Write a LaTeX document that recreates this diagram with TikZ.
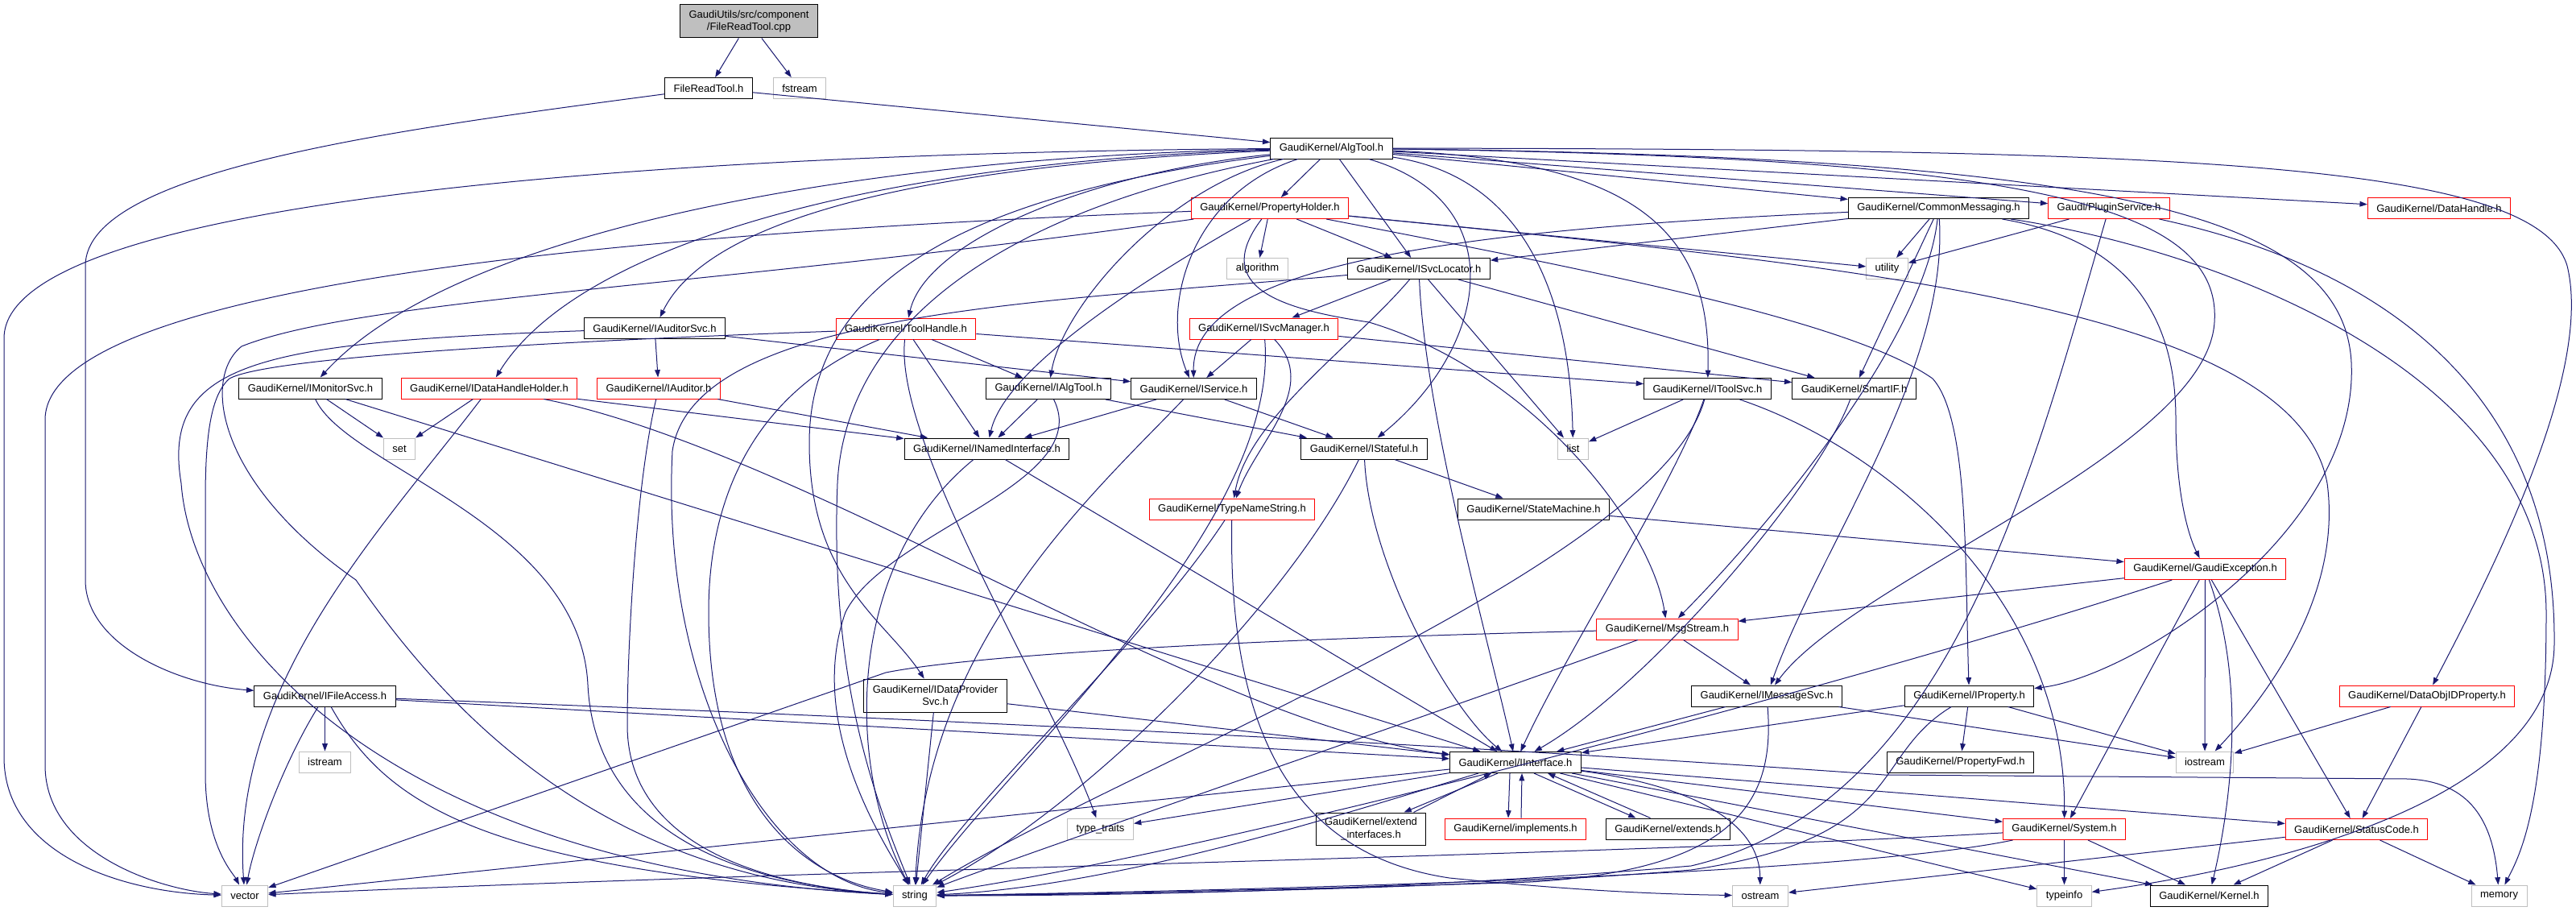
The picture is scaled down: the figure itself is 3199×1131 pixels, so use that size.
\documentclass[tikz,border=0pt]{standalone}
\usepackage{fontspec}
\setmainfont{Liberation Sans}
\usetikzlibrary{arrows.meta}
\definecolor{edgeblue}{HTML}{191970}

\begin{document}
\begin{tikzpicture}[x=0.75pt,y=-0.75pt,
  font=\fontsize{9.75pt}{11.5pt}\selectfont,
  hdr/.style={draw=black,fill=white,line width=0.75pt,inner xsep=8.25pt,inner ysep=0pt,minimum height=19.5pt},
  hdrred/.style={hdr,draw=red},
  sys/.style={hdr,draw=black!25},
  srcfile/.style={hdr,fill=black!25,minimum height=30.75pt,align=center},
  inc/.style={draw=edgeblue,line width=0.75pt,-{Triangle[length=7pt,width=5pt]}}]
\fill[white] (0,0) rectangle (3199,1131);
\useasboundingbox (0,0) rectangle (3199,1131);

\node[srcfile] (root) at (930,26.5) {GaudiUtils/src/component\\/FileReadTool.cpp};
\node[hdr] (frt) at (880,109.5) {FileReadTool.h};
\node[sys] (fstream) at (993,109.5) {fstream};
\node[hdr] (algtool) at (1653.5,184) {GaudiKernel/AlgTool.h};
\node[hdrred] (propholder) at (1577,258.5) {GaudiKernel/PropertyHolder.h};
\node[sys] (algorithm) at (1561.5,333.5) {algorithm};
\node[hdr] (isvcloc) at (1762,333.5) {GaudiKernel/ISvcLocator.h};
\node[hdr] (commsg) at (2407.5,258.5) {GaudiKernel/CommonMessaging.h};
\node[hdrred] (plugin) at (2619,258.5) {Gaudi/PluginService.h};
\node[hdrred] (datahandle) at (3029,258.5) {GaudiKernel/DataHandle.h};
\node[sys] (utility) at (2343.5,333.5) {utility};
\node[hdrred] (toolhandle) at (1125,408) {GaudiKernel/ToolHandle.h};
\node[hdrred] (isvcmgr) at (1569.5,408) {GaudiKernel/ISvcManager.h};
\node[hdr] (iauditorsvc) at (813,407.5) {GaudiKernel/IAuditorSvc.h};
\node[hdr] (imonitorsvc) at (385.5,482) {GaudiKernel/IMonitorSvc.h};
\node[hdrred] (idhh) at (607.5,482) {GaudiKernel/IDataHandleHolder.h};
\node[hdrred] (iauditor) at (818,482) {GaudiKernel/IAuditor.h};
\node[hdr] (ialgtool) at (1302,482.5) {GaudiKernel/IAlgTool.h};
\node[hdr] (iservice) at (1482.5,482.5) {GaudiKernel/IService.h};
\node[hdr] (itoolsvc) at (2120.5,482.5) {GaudiKernel/IToolSvc.h};
\node[hdr] (smartif) at (2302.5,482.5) {GaudiKernel/SmartIF.h};
\node[sys] (set) at (496,557) {set};
\node[hdr] (inamed) at (1225.5,557) {GaudiKernel/INamedInterface.h};
\node[hdr] (istateful) at (1694,557) {GaudiKernel/IStateful.h};
\node[sys] (list) at (1953.5,557) {list};
\node[hdrred] (typename) at (1530,632) {GaudiKernel/TypeNameString.h};
\node[hdr] (statemachine) at (1904.5,632) {GaudiKernel/StateMachine.h};
\node[hdrred] (gaudiexc) at (2738.5,706.5) {GaudiKernel/GaudiException.h};
\node[hdrred] (msgstream) at (2070.5,781) {GaudiKernel/MsgStream.h};
\node[hdr,minimum height=30.75pt,align=center] (idataprov) at (1161.5,863.5) {GaudiKernel/IDataProvider\\Svc.h};
\node[hdr] (ifileaccess) at (403.5,864) {GaudiKernel/IFileAccess.h};
\node[hdr] (imessagesvc) at (2194,864) {GaudiKernel/IMessageSvc.h};
\node[hdr] (iproperty) at (2445.5,864) {GaudiKernel/IProperty.h};
\node[hdrred] (dataobjid) at (3014,864) {GaudiKernel/DataObjIDProperty.h};
\node[sys] (istream) at (403.5,946) {istream};
\node[hdr] (iinterface) at (1882,946.5) {GaudiKernel/IInterface.h};
\node[hdr] (propfwd) at (2434.5,946) {GaudiKernel/PropertyFwd.h};
\node[sys] (iostream) at (2738,946) {iostream};
\node[sys] (typetraits) at (1366.5,1029) {type\_traits};
\node[hdr,minimum height=30pt,align=center] (extendif) at (1702.5,1029) {GaudiKernel/extend\\\_interfaces.h};
\node[hdrred] (implements) at (1882,1029) {GaudiKernel/implements.h};
\node[hdr] (extends) at (2071.5,1029) {GaudiKernel/extends.h};
\node[hdrred] (system) at (2563.5,1029.5) {GaudiKernel/System.h};
\node[hdrred] (statuscode) at (2926.5,1029.5) {GaudiKernel/StatusCode.h};
\node[sys] (vector) at (304,1112) {vector};
\node[sys] (string) at (1136,1112) {string};
\node[sys] (ostream) at (2186,1112) {ostream};
\node[sys] (typeinfo) at (2563.5,1112) {typeinfo};
\node[hdr] (kernel) at (2743.5,1112) {GaudiKernel/Kernel.h};
\node[sys] (memory) at (3103.5,1112) {memory};

\draw[inc] (root) -- (frt);
\draw[inc] (root) -- (fstream);
\draw[inc] (frt) -- (algtool);
\draw[inc] (frt) .. controls (500,160) and (106,210) .. (106,330) -- (106,720) .. controls (106,800) and (220,850) .. (ifileaccess);

\draw[inc] (algtool) -- (propholder);
\draw[inc] (algtool) -- (isvcloc);
\draw[inc] (algtool) -- (commsg);
\draw[inc] (algtool) -- (plugin);
\draw[inc] (algtool) -- (datahandle);
\draw[inc] (algtool) .. controls (2700,185) and (3150,200) .. (3188,330) .. controls (3220,460) and (3100,700) .. (dataobjid);
\draw[inc] (algtool) .. controls (1350,215) and (1150,300) .. (toolhandle);
\draw[inc] (algtool) .. controls (1150,205) and (880,270) .. (iauditorsvc);
\draw[inc] (algtool) .. controls (1100,200) and (720,300) .. (idhh);
\draw[inc] (algtool) .. controls (1050,195) and (560,290) .. (imonitorsvc);
\draw[inc] (algtool) .. controls (800,190) and (5,250) .. (5,420) -- (5,940) .. controls (5,1060) and (150,1108) .. (vector);
\draw[inc] (algtool) .. controls (1450,230) and (1320,380) .. (ialgtool);
\draw[inc] (algtool) .. controls (1480,240) and (1440,380) .. (iservice);
\draw[inc] (algtool) .. controls (1880,250) and (1850,430) .. (istateful);
\draw[inc] (algtool) .. controls (1900,220) and (1950,380) .. (list);
\draw[inc] (algtool) .. controls (2050,200) and (2125,300) .. (itoolsvc);
\draw[inc] (algtool) .. controls (2500,195) and (2760,250) .. (2750,400) .. controls (2740,560) and (2300,720) .. (imessagesvc);
\draw[inc] (algtool) .. controls (2600,195) and (2910,260) .. (2920,450) .. controls (2930,660) and (2650,840) .. (iproperty);
\draw[inc] (algtool) .. controls (1200,240) and (1005,350) .. (1005,550) .. controls (1005,720) and (1100,770) .. (idataprov);
\draw[inc] (algtool) .. controls (1250,260) and (1050,400) .. (1040,600) .. controls (1030,850) and (1090,1000) .. (string);

\draw[inc] (propholder) -- (algorithm);
\draw[inc] (propholder) -- (isvcloc);
\draw[inc] (propholder) -- (utility);
\draw[inc] (propholder) .. controls (900,285) and (60,340) .. (56,520) -- (56,950) .. controls (56,1060) and (200,1105) .. (vector);
\draw[inc] (propholder) .. controls (900,355) and (450,370) .. (300,430) .. controls (250,470) and (270,600) .. (442,720) .. controls (560,890) and (750,1090) .. (string);
\draw[inc] (propholder) .. controls (1450,330) and (1250,450) .. (inamed);
\draw[inc] (propholder) .. controls (1500,360) and (1600,385) .. (1700,400) .. controls (1900,460) and (2050,650) .. (msgstream);
\draw[inc] (propholder) .. controls (2000,340) and (2300,400) .. (2400,470) .. controls (2445,520) and (2440,700) .. (iproperty);
\draw[inc] (propholder) .. controls (2300,330) and (2850,380) .. (2890,600) .. controls (2910,750) and (2800,880) .. (iostream);

\draw[inc] (isvcloc) -- (isvcmgr);
\draw[inc] (isvcloc) .. controls (1680,430) and (1550,520) .. (typename);
\draw[inc] (isvcloc) -- (list);
\draw[inc] (isvcloc) -- (smartif);
\draw[inc] (isvcloc) .. controls (1770,520) and (1850,800) .. (iinterface);
\draw[inc] (isvcloc) .. controls (1300,375) and (860,385) .. (835,560) .. controls (820,850) and (950,1090) .. (string);

\draw[inc] (isvcmgr) -- (iservice);
\draw[inc] (isvcmgr) -- (smartif);
\draw[inc] (isvcmgr) .. controls (1640,480) and (1560,550) .. (typename);
\draw[inc] (isvcmgr) .. controls (1590,650) and (1250,950) .. (string);

\draw[inc] (commsg) -- (utility);
\draw[inc] (commsg) -- (smartif);
\draw[inc] (commsg) -- (isvcloc);
\draw[inc] (commsg) .. controls (1800,285) and (1480,330) .. (iservice);
\draw[inc] (commsg) .. controls (2390,420) and (2200,650) .. (msgstream);
\draw[inc] (commsg) .. controls (2420,460) and (2260,680) .. (imessagesvc);
\draw[inc] (commsg) .. controls (2650,300) and (2702,400) .. (2702,520) .. controls (2702,620) and (2720,670) .. (gaudiexc);
\draw[inc] (commsg) .. controls (2750,310) and (3160,460) .. (3162,760) .. controls (3162,1000) and (3130,1060) .. (memory);

\draw[inc] (plugin) -- (utility);
\draw[inc] (plugin) .. controls (2520,600) and (2420,1000) .. (2100,1075) .. controls (1700,1110) and (1300,1112) .. (string);
\draw[inc] (plugin) .. controls (2950,330) and (3175,480) .. (3172,800) .. controls (3170,1000) and (2800,1080) .. (typeinfo);

\draw[inc] (toolhandle) -- (ialgtool);
\draw[inc] (toolhandle) -- (inamed);
\draw[inc] (toolhandle) -- (itoolsvc);
\draw[inc] (toolhandle) .. controls (650,425) and (330,445) .. (285,470) .. controls (262,490) and (255,540) .. (255,620) -- (255,960) .. controls (255,1050) and (290,1085) .. (vector);
\draw[inc] (toolhandle) .. controls (950,480) and (880,600) .. (880,760) .. controls (880,1000) and (1000,1090) .. (string);
\draw[inc] (toolhandle) .. controls (1110,550) and (1300,850) .. (typetraits);

\draw[inc] (iauditorsvc) -- (iauditor);
\draw[inc] (iauditorsvc) -- (iservice);
\draw[inc] (iauditorsvc) .. controls (320,425) and (200,450) .. (225,600) .. controls (240,800) and (500,1080) .. (string);

\draw[inc] (imonitorsvc) -- (set);
\draw[inc] (imonitorsvc) -- (iinterface);
\draw[inc] (imonitorsvc) .. controls (430,580) and (720,650) .. (730,850) .. controls (740,1050) and (950,1100) .. (string);

\draw[inc] (idhh) -- (set);
\draw[inc] (idhh) .. controls (480,650) and (285,850) .. (vector);
\draw[inc] (idhh) -- (inamed);
\draw[inc] (idhh) .. controls (1000,560) and (1500,900) .. (iinterface);

\draw[inc] (iauditor) -- (inamed);
\draw[inc] (iauditor) .. controls (790,600) and (779,800) .. (779,900) .. controls (779,1050) and (950,1100) .. (string);

\draw[inc] (ialgtool) -- (inamed);
\draw[inc] (ialgtool) -- (istateful);
\draw[inc] (ialgtool) .. controls (1360,600) and (1100,660) .. (1050,760) .. controls (1000,900) and (1100,1050) .. (string);

\draw[inc] (iservice) -- (inamed);
\draw[inc] (iservice) -- (istateful);
\draw[inc] (iservice) .. controls (1350,620) and (1150,800) .. (string);

\draw[inc] (itoolsvc) -- (list);
\draw[inc] (itoolsvc) .. controls (2080,600) and (1950,800) .. (iinterface);
\draw[inc] (itoolsvc) .. controls (2060,700) and (1400,950) .. (string);
\draw[inc] (itoolsvc) .. controls (2350,560) and (2566,750) .. (system);

\draw[inc] (smartif) .. controls (2260,600) and (2050,850) .. (iinterface);

\draw[inc] (inamed) -- (iinterface);
\draw[inc] (inamed) .. controls (1050,700) and (1050,950) .. (string);

\draw[inc] (istateful) -- (statemachine);
\draw[inc] (istateful) .. controls (1700,700) and (1800,880) .. (iinterface);
\draw[inc] (istateful) .. controls (1600,750) and (1350,1000) .. (string);

\draw[inc] (typename) .. controls (1420,800) and (1200,1000) .. (string);
\draw[inc] (typename) .. controls (1525,900) and (1600,1060) .. (1800,1090) .. controls (1950,1105) and (2050,1110) .. (ostream);

\draw[inc] (statemachine) -- (gaudiexc);

\draw[inc] (gaudiexc) -- (msgstream);
\draw[inc] (gaudiexc) .. controls (2300,850) and (1500,1060) .. (string);
\draw[inc] (gaudiexc) -- (iostream);
\draw[inc] (gaudiexc) -- (system);
\draw[inc] (gaudiexc) .. controls (2790,850) and (2770,1000) .. (kernel);
\draw[inc] (gaudiexc) -- (statuscode);

\draw[inc] (msgstream) -- (imessagesvc);
\draw[inc] (msgstream) .. controls (1500,795) and (1200,815) .. (1100,835) -- (vector);
\draw[inc] (msgstream) .. controls (1800,880) and (1300,1050) .. (string);

\draw[inc] (idataprov) -- (iinterface);
\draw[inc] (idataprov) -- (string);

\draw[inc] (ifileaccess) -- (istream);
\draw[inc] (ifileaccess) .. controls (350,950) and (315,1050) .. (vector);
\draw[inc] (ifileaccess) .. controls (480,1000) and (600,1080) .. (string);
\draw[inc] (ifileaccess) -- (iinterface);
\draw[inc] (ifileaccess) .. controls (1500,905) and (2100,945) .. (2340,962) -- (2990,967) .. controls (3060,970) and (3095,1010) .. (memory);

\draw[inc] (imessagesvc) -- (iinterface);
\draw[inc] (imessagesvc) .. controls (2205,1000) and (2150,1080) .. (1900,1095) .. controls (1600,1105) and (1300,1110) .. (string);
\draw[inc] (imessagesvc) -- (iostream);

\draw[inc] (iproperty) -- (propfwd);
\draw[inc] (iproperty) -- (iostream);
\draw[inc] (iproperty) -- (iinterface);
\draw[inc] (iproperty) .. controls (2320,940) and (2370,1040) .. (2100,1080) .. controls (1800,1105) and (1400,1110) .. (string);

\draw[inc] (dataobjid) -- (iostream);
\draw[inc] (dataobjid) -- (statuscode);

\draw[inc] ([xshift=-16.5pt]iinterface.south) -- ([xshift=30.75pt]extendif.north);
\draw[inc] ([xshift=39.75pt]extendif.north) -- ([xshift=-22.5pt]iinterface.south);
\draw[inc] ([xshift=-5.25pt]iinterface.south) -- ([xshift=-6.75pt]implements.north);
\draw[inc] ([xshift=5.25pt]implements.north) -- ([xshift=6pt]iinterface.south);
\draw[inc] ([xshift=17.25pt]iinterface.south) -- ([xshift=-30pt]extends.north);
\draw[inc] ([xshift=-16.5pt]extends.north) -- ([xshift=30pt]iinterface.south);
\draw[inc] (iinterface) -- (typetraits);
\draw[inc] (iinterface) -- (system);
\draw[inc] (iinterface) -- (statuscode);
\draw[inc] (iinterface) -- (kernel);
\draw[inc] (iinterface) -- (typeinfo);
\draw[inc] (iinterface) .. controls (2100,975) and (2185,1020) .. (ostream);
\draw[inc] (iinterface) .. controls (1700,1000) and (1400,1100) .. (string);
\draw[inc] (iinterface) -- (vector);

\draw[inc] (system) -- (typeinfo);
\draw[inc] (system) -- (kernel);
\draw[inc] (system) .. controls (2000,1062) and (1000,1080) .. (vector);
\draw[inc] (system) .. controls (2300,1085) and (1600,1105) .. (string);

\draw[inc] (statuscode) -- (ostream);
\draw[inc] (statuscode) -- (kernel);
\draw[inc] (statuscode) -- (memory);
\end{tikzpicture}
\end{document}
